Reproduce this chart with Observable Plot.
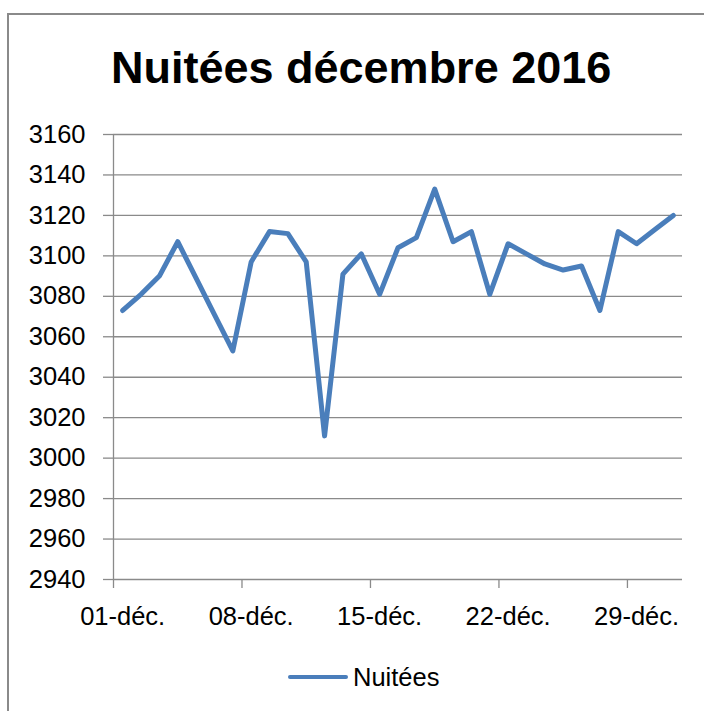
<!DOCTYPE html>
<html>
<head>
<meta charset="utf-8">
<script src="https://cdn.jsdelivr.net/npm/d3@7"></script>
<script src="https://cdn.jsdelivr.net/npm/@observablehq/plot@0.6"></script>
<style>
  html, body { margin: 0; padding: 0; background: #fff; }
  body { width: 704px; height: 711px; position: relative; overflow: hidden; font-family: "Liberation Sans", Arial, sans-serif; }
  #frame { position: absolute; left: 7px; top: 13px; width: 720px; height: 720px; border-left: 2px solid #8a8a8a; border-top: 2px solid #8a8a8a; box-sizing: border-box; }
  #title { position: absolute; left: 111px; top: 45px; font-size: 45px; font-weight: bold; line-height: 1; color: #000; white-space: nowrap; }
  #chart { position: absolute; left: 0; top: 100px; }
  #legend { position: absolute; left: 288px; top: 660px; height: 34px; display: flex; align-items: center; }
  #legend .swatch { width: 60px; height: 4.5px; border-radius: 2px; background: #4a7ebb; margin-right: 5px; }
  #legend .lbl { font-size: 25.5px; color: #000; }
</style>
</head>
<body>
<div id="frame"></div>
<div id="title">Nuitées décembre 2016</div>
<div id="chart"></div>
<div id="legend"><div class="swatch"></div><div class="lbl">Nuitées</div></div>
<script>
const seriesName = "Nuitées";
const days = [1,2,3,4,5,6,7,8,9,10,11,12,13,14,15,16,17,18,19,20,21,22,23,24,25,26,27,28,29,30,31];
const nuitees = [3073,3081,3090,3107,3089,3071,3053,3097,3112,3111,3097,3011,3091,3101,3081,3104,3109,3133,3107,3112,3081,3106,3101,3096,3093,3095,3073,3112,3106,3113,3120];
const yTicks = [2940,2960,2980,3000,3020,3040,3060,3080,3100,3120,3140,3160];
const xTickDays = [1,8,15,22,29];
const xTickLabels = ["01-déc.","08-déc.","15-déc.","22-déc.","29-déc."];

const dayStart = d => new Date(Date.UTC(2016, 11, d));
const dayMid = d => new Date(Date.UTC(2016, 11, d, 12));
const data = days.map((d, i) => ({date: dayMid(d), value: nuitees[i]}));
const tickDates = xTickDays.map(dayStart);
const labelDates = xTickDays.map(dayMid);
const grid = "#8a8a8a";

const chart = Plot.plot({
  width: 704,
  height: 539,
  marginLeft: 113,
  marginRight: 22,
  marginTop: 34,
  marginBottom: 60,
  style: {fontFamily: "Liberation Sans, Arial, sans-serif", fontSize: "25.5px", color: "#000", background: "transparent", overflow: "visible"},
  x: {type: "utc", domain: [dayStart(1), new Date(Date.UTC(2017, 0, 1))]},
  y: {domain: [yTicks[0], yTicks[yTicks.length - 1]]},
  marks: [
    Plot.gridY(yTicks, {stroke: grid, strokeOpacity: 1, strokeWidth: 1.3}),
    Plot.axisY(yTicks, {tickSize: 10, tickPadding: 18, stroke: grid, strokeWidth: 1.3, label: null, fill: "#000", fontSize: 25.5, tickFormat: d => String(d)}),
    Plot.ruleX([dayStart(1)], {stroke: grid, strokeWidth: 1.3}),
    Plot.axisX(tickDates, {tickSize: 9, tickFormat: () => "", stroke: grid, strokeWidth: 1.3, label: null}),
    Plot.axisX(labelDates, {tickSize: 0, tickPadding: 27, label: null, fill: "#000", fontSize: 25.5,
      tickFormat: d => xTickLabels[xTickDays.indexOf(d.getUTCDate())]}),
    Plot.line(data, {x: "date", y: "value", stroke: "#4a7ebb", strokeWidth: 5, strokeLinejoin: "round", strokeLinecap: "round"})
  ]
});
document.getElementById("chart").appendChild(chart);
</script>
</body>
</html>
